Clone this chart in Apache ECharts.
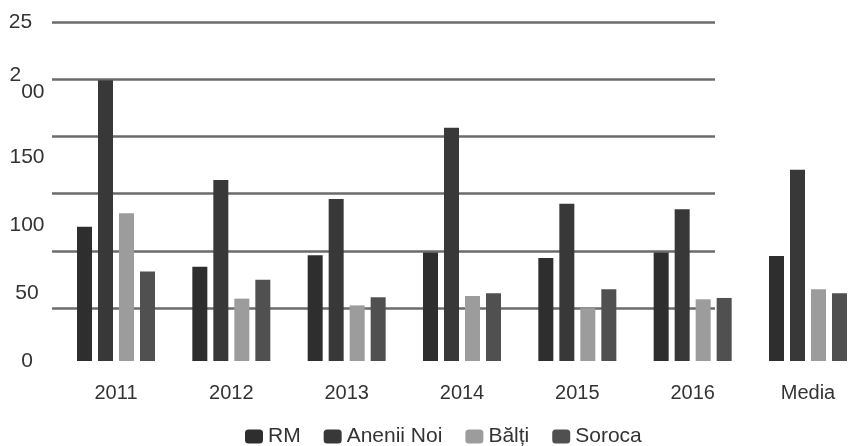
<!DOCTYPE html>
<html>
<head>
<meta charset="utf-8">
<script src="https://cdn.jsdelivr.net/npm/echarts@6/dist/echarts.min.js"></script>
<style>
  html, body { margin: 0; padding: 0; background: #fff; }
  #main { width: 848px; height: 446px; }
</style>
</head>
<body>
<div id="main"></div>
<script>
// categories + values
const years = ['2011', '2012', '2013', '2014', '2015', '2016', 'Media'];
const rm      = [99, 69.5, 78, 80, 76, 80, 77.5];
const anenii  = [207, 133.5, 119.5, 172, 116, 112, 141];
const balti   = [109, 46, 41, 48, 39, 45.5, 53];
const soroca  = [66, 60, 47, 50, 53, 46.5, 50];
// tick labels as printed (250 is cut to "25", the 2 of 200 sits raised)
const yTicks  = { 0: '0', 50: '50', 100: '100', 150: '150', 200: '{s|2}{b|00}', 250: '{c|25}' };

const font = 'Liberation Sans';
const txt = '#333';

let myChart = echarts.init(document.getElementById('main'));

function bar(name, data, color) {
  return {
    name: name,
    type: 'bar',
    data: data,
    barWidth: 15,
    barGap: '40%',
    clip: false,
    itemStyle: { color: color },
    xAxisIndex: 0,
    yAxisIndex: 0
  };
}

let option = {
  animation: false,
  backgroundColor: '#fff',
  textStyle: { fontFamily: font },
  grid: [
    // bars: category ticks sit on the group centres (boundaryGap off)
    { left: 116, right: 40, top: 22, bottom: 85 },
    // the scanned gridlines don't line up with the labels, so they live in their own grid
    { left: 52, right: 133, top: 22, bottom: 138 }
  ],
  legend: {
    left: 240,
    top: 421,
    itemWidth: 18,
    itemHeight: 14,
    itemGap: 23,
    textStyle: { fontSize: 21, color: txt, fontFamily: font },
    data: ['RM', 'Anenii Noi', 'Bălți', 'Soroca']
  },
  xAxis: [
    {
      type: 'category',
      gridIndex: 0,
      data: years,
      boundaryGap: false,
      axisLine: { show: false },
      axisTick: { show: false },
      axisLabel: { fontSize: 20, color: txt, margin: 22, fontFamily: font }
    },
    { type: 'value', gridIndex: 1, show: false, min: 0, max: 1 }
  ],
  yAxis: [
    {
      type: 'value',
      gridIndex: 0,
      min: 0,
      max: 250,
      interval: 50,
      axisLine: { show: false },
      axisTick: { show: false },
      splitLine: { show: false },
      axisLabel: {
        fontSize: 21,
        color: txt,
        align: 'center',
        margin: 89,
        fontFamily: font,
        formatter: v => yTicks[v],
        rich: {
          s: { fontSize: 21, color: txt, fontFamily: font, verticalAlign: 'top', padding: [0, 0, 29, 0] },
          b: { fontSize: 21, color: txt, fontFamily: font, verticalAlign: 'top', padding: [17, 0, 0, 0] },
          c: { fontSize: 21, color: txt, fontFamily: font, padding: [0, 13, 0, 0] }
        }
      }
    },
    {
      type: 'value',
      gridIndex: 1,
      min: 0,
      max: 250,
      interval: 50,
      axisLine: { show: false },
      axisTick: { show: false },
      axisLabel: { show: false },
      splitLine: { show: true, lineStyle: { color: '#6b6b6b', width: 2.5 } }
    }
  ],
  series: [
    bar('RM', rm, '#2e2e2e'),
    bar('Anenii Noi', anenii, '#383838'),
    bar('Bălți', balti, '#9c9c9c'),
    bar('Soroca', soroca, '#505050')
  ]
};

myChart.setOption(option);
</script>
</body>
</html>
